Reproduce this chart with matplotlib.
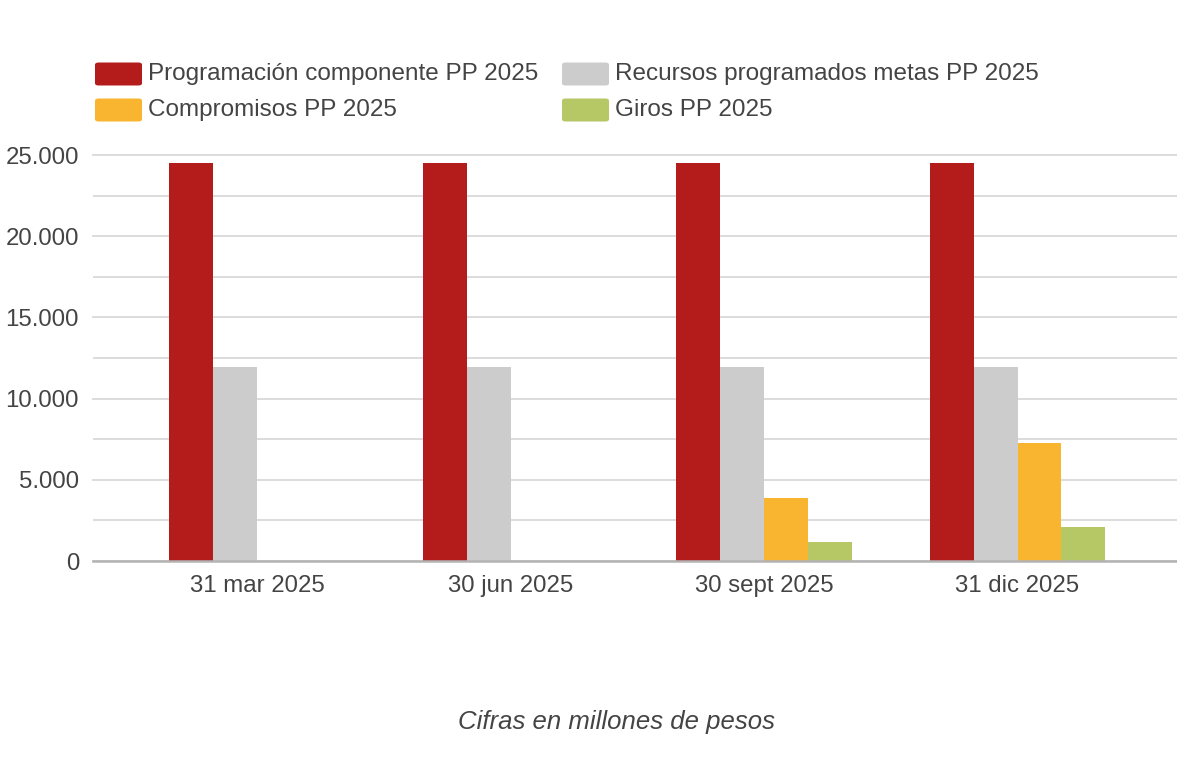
import matplotlib
matplotlib.use("Agg")
import matplotlib.pyplot as plt
from matplotlib.patches import FancyBboxPatch
import numpy as np

plt.rcParams['font.family'] = ['Liberation Sans', 'DejaVu Sans']

categories = ["31 mar 2025", "30 jun 2025", "30 sept 2025", "31 dic 2025"]
series_names = ["Programación componente PP 2025", "Recursos programados metas PP 2025",
                "Compromisos PP 2025", "Giros PP 2025"]
programacion = [24500, 24500, 24500, 24500]
recursos = [11950, 11950, 11950, 11950]
compromisos = [0, 0, 3880, 7250]
giros = [0, 0, 1170, 2080]
colors = ["#b41c1c", "#cccccc", "#f9b52f", "#b6c766"]
yticks = [0, 5000, 10000, 15000, 20000, 25000]
ytick_labels = ["0", "5.000", "10.000", "15.000", "20.000", "25.000"]

W, H = 1177, 769
fig = plt.figure(figsize=(W / 100, H / 100), dpi=100)
ax = fig.add_axes([93 / W, 1 - 561 / H, (1177 - 93) / W, (561 - 155) / H])

x = np.arange(len(categories))
bw = 0.173
data = [programacion, recursos, compromisos, giros]
for i, (vals, c) in enumerate(zip(data, colors)):
    ax.bar(x + (i - 1.5) * bw, vals, width=bw, color=c, zorder=3, linewidth=0)

ax.set_xlim(-0.647, 3.629)
ax.set_ylim(0, 25000)
ax.set_yticks(yticks)
ax.set_yticklabels(ytick_labels)
ax.set_yticks(np.arange(2500, 25000, 5000), minor=True)
ax.set_xticks(x + 0.0)
ax.set_xticklabels(categories)
ax.grid(axis='y', which='both', color='#d9d9d9', linewidth=1.3, zorder=0)
for gl in ax.get_ygridlines():
    gl.set_clip_on(False)
ax.tick_params(axis='both', which='both', length=0, labelsize=17.3, colors='#444444')
ax.tick_params(axis='y', pad=10)
ax.tick_params(axis='x', pad=10)
for s in ['top', 'right', 'left']:
    ax.spines[s].set_visible(False)
ax.spines['bottom'].set_color('#b3b3b3')
ax.spines['bottom'].set_linewidth(1.8)
ax.spines['bottom'].set_zorder(4)

# legend
pos = [(95, 74), (562, 74), (95, 110), (562, 110)]
for (px, py), name, c in zip(pos, series_names, colors):
    patch = FancyBboxPatch((px / W, 1 - (py + 11.5) / H), 47 / W, 23 / H,
                           boxstyle="round,pad=0,rounding_size=0.003",
                           transform=fig.transFigure, facecolor=c, edgecolor='none')
    fig.add_artist(patch)
    fig.text((px + 53) / W, 1 - py / H, name, fontsize=17.5, color='#444444',
             ha='left', va='center')

fig.text(617 / W, 1 - 722 / H, "Cifras en millones de pesos", fontsize=18.5,
         style='italic', color='#444444', ha='center', va='center')

fig.savefig("out.png", dpi=100)
